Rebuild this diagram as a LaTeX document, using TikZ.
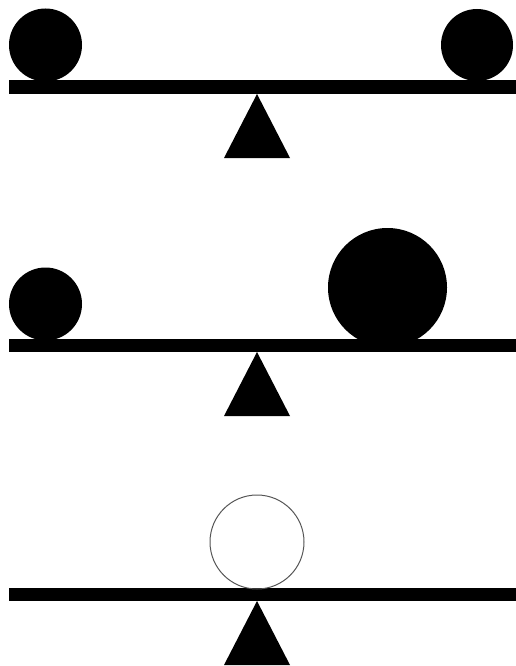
\documentclass[tikz,border=0pt]{standalone}
\definecolor{rimcol}{HTML}{555555}

\begin{document}
\begin{tikzpicture}[x=1pt,y=-1pt]
\useasboundingbox (0,0) rectangle (516,666);
% boards and pivots
\foreach \y in {80.5,338.5,587.5}{
	\fill[black] (9,\y) rectangle (516,\y+13.5);
	\fill[black] (257,\y+13.5) -- (224,\y+77.5) -- (290,\y+77.5) -- cycle;
	}
% weights
\fill[black] (45.5,45) circle (36.5);
\fill[black] (477,45) circle (36);
\fill[black] (45.5,304) circle (36.5);
\fill[black] (387.5,287.5) circle (59.5);
\draw[rimcol,line width=1pt] (257,542) circle (47);
\end{tikzpicture}
\end{document}
